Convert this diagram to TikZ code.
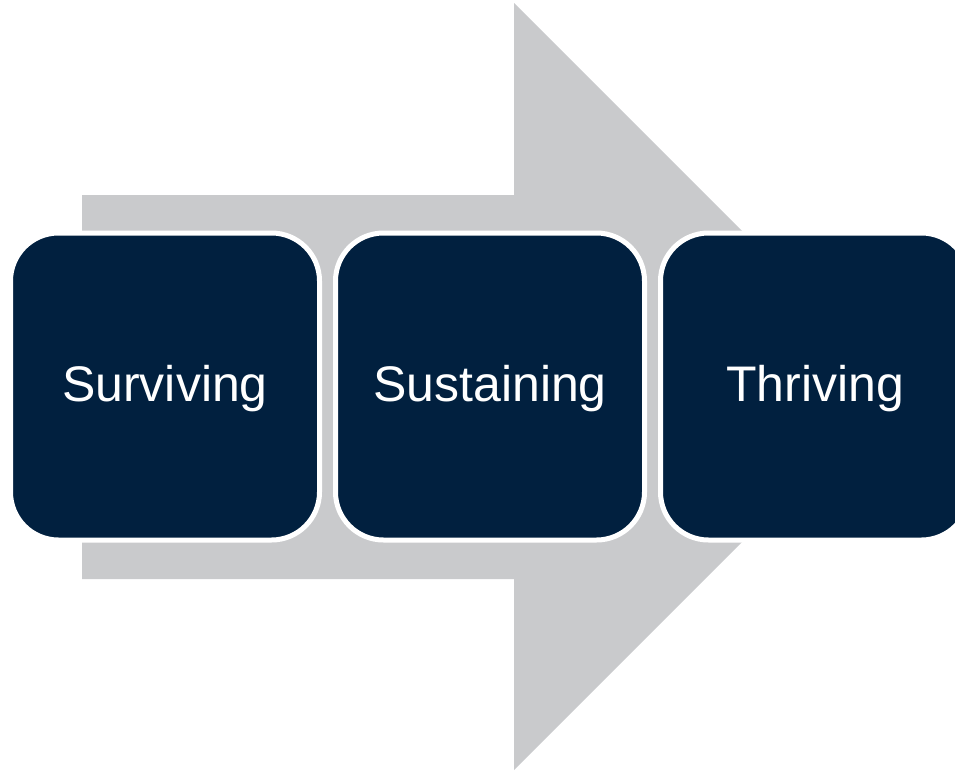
\documentclass[tikz,border=0pt]{standalone}
\usepackage{fontspec}
\setmainfont{Liberation Sans}
\definecolor{arrowgray}{HTML}{C9CACC}
\definecolor{navy}{HTML}{01203F}
\begin{document}
\begin{tikzpicture}[x=1pt,y=-1pt,
  stagebox/.style={fill=navy, draw=white, line width=5pt, rounded corners=48pt,
    minimum width=309pt, minimum height=307pt, inner sep=0pt, anchor=center,
    text=white, font=\fontsize{50}{60}\selectfont, text height=36pt, text depth=7pt}]
\useasboundingbox (0,0) rectangle (955,771);
\fill[arrowgray] (82,195) -- (514,195) -- (514,3) -- (897.5,386.5) -- (514,770) -- (514,579) -- (82,579) -- cycle;
\node[stagebox] (s1) at (165,386.5) {Surviving};
\node[stagebox] (s2) at (490,386.5) {Sustaining};
\node[stagebox] (s3) at (815,386.5) {Thriving};
\end{tikzpicture}
\end{document}
